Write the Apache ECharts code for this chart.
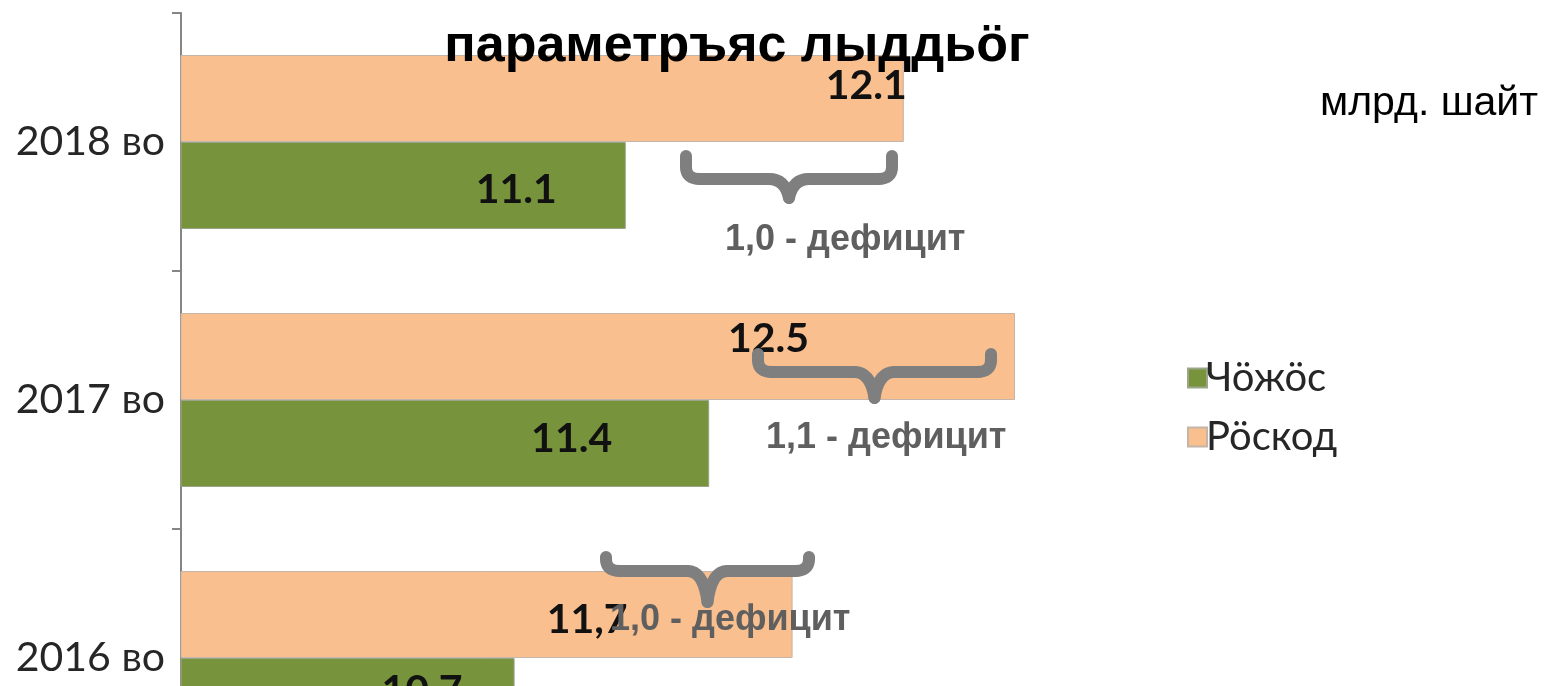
<!DOCTYPE html>
<html>
<head>
<meta charset="utf-8">
<script src="https://cdn.jsdelivr.net/npm/echarts@6/dist/echarts.min.js"></script>
<style>
  html, body { margin: 0; padding: 0; background: #fff; }
  #chart { width: 1546px; height: 686px; }
</style>
</head>
<body>
<div id="chart"></div>
<script>
// категории (снизу вверх)
const years = ['2016 во', '2017 во', '2018 во'];
// Чӧжӧс
const income = [10.7, 11.4, 11.1];
const incomeText = ['10.7', '11.4', '11.1'];
// Рӧскод
const expense = [11.7, 12.5, 12.1];
const expenseText = ['11,7', '12.5', '12.1'];
// подписи дефицита
const deficitText = ['1,0 - дефицит', '1,1 - дефицит', '1,0 - дефицит'];

// сдвиги подписей (как в исходной картинке)
const incomeShift = [[-47, -11], [-92, -5], [-64, 4]];
const expenseShift = [[-160, 5], [-201, -18], [8, -13]];

const braceStyle = { fill: null, stroke: '#7f7f7f', lineWidth: 12, lineCap: 'round', lineJoin: 'round' };

function seg(x1, y1, x2, y2) {
    return { type: 'line', z: 100, shape: { x1: x1, y1: y1, x2: x2, y2: y2 }, style: braceStyle };
}
function curve(x1, y1, cx, cy, x2, y2) {
    return { type: 'bezierCurve', z: 100, shape: { x1: x1, y1: y1, cpx1: cx, cpy1: cy, x2: x2, y2: y2 }, style: braceStyle };
}

// фигурная скобка (горизонтальная, остриём вниз)
function brace(x1, x2, yTop, yBand, yTip) {
    const xm = (x1 + x2) / 2;
    return {
        type: 'group',
        z: 100,
        children: [
            seg(x1, yTop, x1, yBand - 12),
            curve(x1, yBand - 12, x1, yBand, x1 + 14, yBand),
            seg(x1 + 14, yBand, xm - 20, yBand),
            curve(xm - 20, yBand, xm - 4, yBand, xm, yTip),
            curve(xm, yTip, xm + 4, yBand, xm + 20, yBand),
            seg(xm + 20, yBand, x2 - 14, yBand),
            curve(x2 - 14, yBand, x2, yBand, x2, yBand - 12),
            seg(x2, yBand - 12, x2, yTop)
        ]
    };
}

function deficit(text, x, y) {
    return {
        type: 'text',
        z: 101,
        x: x,
        y: y,
        style: {
            text: text,
            fill: '#5f5f5f',
            font: 'bold 36px "Liberation Sans", Arial, sans-serif',
            textVerticalAlign: 'middle'
        }
    };
}

const chart = echarts.init(document.getElementById('chart'));
chart.setOption({
    animation: false,
    backgroundColor: '#fff',
    grid: {
        left: 181,
        right: 392,
        top: 13,
        bottom: -101,
        outerBoundsMode: 'none'
    },
    legend: {
        orient: 'vertical',
        left: 1182,
        top: 353,
        itemWidth: 19,
        itemHeight: 19,
        itemGap: 19,
        icon: 'rect',
        data: ['Чӧжӧс', 'Рӧскод'],
        textStyle: {
            fontFamily: 'Lato',
            fontSize: 40,
            lineHeight: 38,
            color: '#262626',
            padding: [0, 0, 0, -6]
        }
    },
    xAxis: {
        type: 'value',
        min: 9.5,
        max: 13,
        show: false
    },
    yAxis: {
        type: 'category',
        data: years,
        axisLine: { show: true, lineStyle: { color: '#858585', width: 2 } },
        axisTick: { show: true, length: 9, lineStyle: { color: '#858585', width: 2 } },
        axisLabel: {
            margin: 16,
            fontFamily: 'Lato',
            fontSize: 41,
            color: '#262626'
        }
    },
    series: [
        {
            name: 'Рӧскод',
            type: 'bar',
            barWidth: 87,
            barGap: '0%',
            itemStyle: { color: '#f9bf8f', borderColor: '#c4b5a8', borderWidth: 1 },
            label: {
                show: true,
                position: 'insideRight',
                fontFamily: 'Lato',
                fontWeight: 'bold',
                fontSize: 41,
                color: '#111',
                formatter: p => expenseText[p.dataIndex]
            },
            data: expense.map((v, i) => ({ value: v, label: { offset: expenseShift[i] } }))
        },
        {
            name: 'Чӧжӧс',
            type: 'bar',
            barWidth: 87,
            barGap: '0%',
            itemStyle: { color: '#77933c', borderColor: '#9aa58a', borderWidth: 1 },
            label: {
                show: true,
                position: 'insideRight',
                fontFamily: 'Lato',
                fontWeight: 'bold',
                fontSize: 41,
                color: '#111',
                formatter: p => incomeText[p.dataIndex]
            },
            data: income.map((v, i) => ({ value: v, label: { offset: incomeShift[i] } }))
        }
    ],
    graphic: [
        {
            type: 'text',
            z: 102,
            x: 737,
            y: 47,
            style: {
                text: 'параметръяс лыддьӧг',
                fill: '#000',
                font: 'bold 52px "Liberation Sans", Arial, sans-serif',
                textAlign: 'center',
                textVerticalAlign: 'middle'
            }
        },
        {
            type: 'text',
            z: 102,
            x: 1320,
            y: 104,
            style: {
                text: 'млрд. шайт',
                fill: '#000',
                font: '41px "Liberation Sans", Arial, sans-serif',
                textVerticalAlign: 'middle'
            }
        },
        brace(686, 892, 156, 179, 198),
        brace(758, 991, 354, 372, 398),
        brace(606, 809, 557, 571, 602),
        deficit(deficitText[2], 725, 240),
        deficit(deficitText[1], 766, 438),
        deficit(deficitText[0], 610, 620)
    ]
});
</script>
</body>
</html>
